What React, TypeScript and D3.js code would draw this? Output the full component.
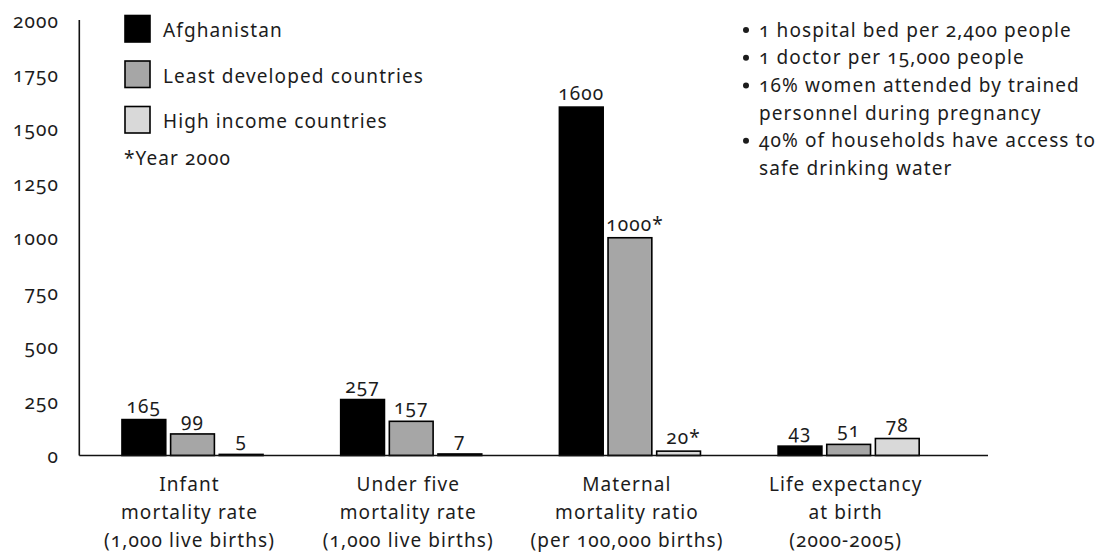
import React from "react";
import * as d3 from "d3";

const categoryKeys = ["infant", "underFive", "maternal", "lifeExpectancy"];
const categoryLabels = [
  ["Infant", "mortality rate", "(1,000 live births)"],
  ["Under five", "mortality rate", "(1,000 live births)"],
  ["Maternal", "mortality ratio", "(per 100,000 births)"],
  ["Life expectancy", "at birth", "(2000-2005)"],
];
const seriesNames = ["Afghanistan", "Least developed countries", "High income countries"];
const afghanistan = [165, 257, 1600, 43];
const leastDeveloped = [99, 157, 1000, 51];
const highIncome = [5, 7, 20, 78];
const afghanistanNotes = ["", "", "", ""];
const leastDevelopedNotes = ["", "", "*", ""];
const highIncomeNotes = ["", "", "*", ""];
const yTicks = [0, 250, 500, 750, 1000, 1250, 1500, 1750, 2000];
const footnote = "*Year 2000";
const facts = [
  ["1 hospital bed per 2,400 people"],
  ["1 doctor per 15,000 people"],
  ["16% women attended by trained", "personnel during pregnancy"],
  ["40% of households have access to", "safe drinking water"],
];

const seriesValues = [afghanistan, leastDeveloped, highIncome];
const seriesNotes = [afghanistanNotes, leastDevelopedNotes, highIncomeNotes];
const colors = ["#000000", "#a6a6a6", "#d9d9d9"];

const FONT = "'Noto Sans', sans-serif";
const TEXT = "#1c1c1c";
const textStyle: React.CSSProperties = {
  fontFamily: FONT,
  fontSize: 19,
  letterSpacing: 1.1,
  fontVariantNumeric: "oldstyle-nums",
  fill: TEXT,
};

export default function App() {
  const W = 1110;
  const H = 553;
  const axisX = 79.3;
  const axisRight = 988;

  const y = d3.scaleLinear().domain([0, 2000]).range([455.5, 20]);
  const x = d3
    .scaleBand<string>()
    .domain(categoryKeys)
    .range([83.15, 958])
    .paddingInner(0.355)
    .paddingOuter(0.1775);
  const xs = d3
    .scaleBand<number>()
    .domain(d3.range(seriesNames.length))
    .range([0, x.bandwidth()])
    .paddingInner(0.1);

  let lineNo = 0;
  const factLines: { text: string; bullet: boolean; idx: number }[] = [];
  facts.forEach((f) =>
    f.forEach((t, j) => {
      factLines.push({ text: t, bullet: j === 0, idx: lineNo++ });
    })
  );

  return (
    <svg
      width={W}
      height={H}
      style={{ position: "absolute", left: 0, top: 0, background: "#fff" }}
    >
      <rect x={0} y={0} width={W} height={H} fill="#fff" />
      {/* y tick labels */}
      {yTicks.map((t) => (
        <text key={t} x={59} y={y(t) + 7.5} textAnchor="end" style={textStyle}>
          {t}
        </text>
      ))}
      {/* bars */}
      {categoryKeys.map((c, ci) => (
        <g key={c} transform={`translate(${x(c)},0)`}>
          {seriesValues.map((vals, si) => {
            const v = vals[ci];
            const bx = xs(si)!;
            const bw = xs.bandwidth();
            const note = seriesNotes[si][ci];
            return (
              <g key={si}>
                <rect
                  x={bx}
                  y={y(v)}
                  width={bw}
                  height={y(0) - y(v)}
                  fill={colors[si]}
                  stroke="#000"
                  strokeWidth={1.6}
                />
                <text
                  x={bx + bw / 2 + (note ? 5 : 0)}
                  y={y(v) - 7}
                  textAnchor="middle"
                  style={textStyle}
                >
                  {v}
                  {note}
                </text>
              </g>
            );
          })}
          {categoryLabels[ci].map((l, li) => (
            <text
              key={li}
              x={x.bandwidth() / 2 - 3}
              y={490.5 + li * 28.2}
              textAnchor="middle"
              style={textStyle}
            >
              {l}
            </text>
          ))}
        </g>
      ))}
      {/* axes */}
      <line x1={axisX} x2={axisX} y1={20} y2={y(0)} stroke="#111" strokeWidth={1.6} />
      <line x1={axisX} x2={axisRight} y1={y(0)} y2={y(0)} stroke="#111" strokeWidth={1.6} />
      {/* legend */}
      {seriesNames.map((n, i) => (
        <g key={n}>
          <rect
            x={125}
            y={15.5 + i * 45.5}
            width={25}
            height={26.5}
            fill={colors[i]}
            stroke="#000"
            strokeWidth={1.6}
          />
          <text x={163} y={36.7 + i * 45.8} style={textStyle}>
            {n}
          </text>
        </g>
      ))}
      <text x={124} y={165} style={textStyle}>
        {footnote}
      </text>
      {/* facts */}
      {factLines.map((f) => (
        <g key={f.idx}>
          {f.bullet && (
            <circle cx={746} cy={36.5 + f.idx * 27.7 - 6.5} r={3} fill={TEXT} />
          )}
          <text x={759} y={36.5 + f.idx * 27.7} style={textStyle}>
            {f.text}
          </text>
        </g>
      ))}
    </svg>
  );
}
